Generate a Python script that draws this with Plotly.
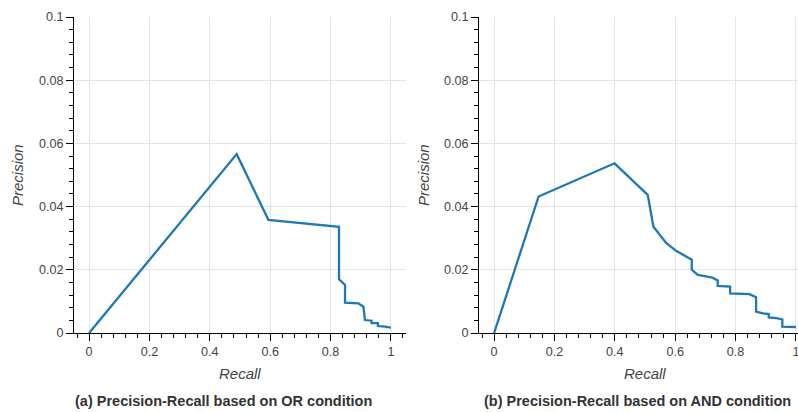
import plotly.graph_objects as go

# ---- data ----
or_recall = [0.0, 0.489, 0.594, 0.828, 0.828, 0.848, 0.848, 0.892, 0.909, 0.914,
             0.936, 0.936, 0.957, 0.957, 0.980, 1.0]
or_precision = [0.0, 0.0566, 0.0358, 0.0336, 0.0170, 0.0152, 0.0096, 0.0094, 0.0083, 0.0041,
                0.0039, 0.0031, 0.0031, 0.0022, 0.0020, 0.0017]

and_recall = [0.0, 0.1475, 0.399, 0.509, 0.528, 0.570, 0.603, 0.655, 0.655, 0.675, 0.723,
              0.741, 0.741, 0.782, 0.782, 0.846, 0.868, 0.868, 0.891, 0.910, 0.910, 0.935,
              0.955, 0.955, 1.0]
and_precision = [0.0, 0.0432, 0.0537, 0.0437, 0.0336, 0.0285, 0.0260, 0.0232, 0.0200, 0.0184,
                 0.0175, 0.0166, 0.0149, 0.0147, 0.0125, 0.0123, 0.0113, 0.0068, 0.0062, 0.0060,
                 0.0049, 0.0047, 0.0043, 0.0020, 0.0019]

x_ticks = [0, 0.2, 0.4, 0.6, 0.8, 1.0]
x_tick_text = ["0", "0.2", "0.4", "0.6", "0.8", "1"]
y_ticks = [0, 0.02, 0.04, 0.06, 0.08, 0.1]
y_tick_text = ["0", "0.02", "0.04", "0.06", "0.08", "0.1"]

captions = ["(a) Precision-Recall based on OR condition",
            "(b) Precision-Recall based on AND condition"]

# ---- layout constants ----
W, H = 798, 412
FONT = "Arial, Liberation Sans, Helvetica, sans-serif"
LINE_COLOR = "#1f77b4"

def px_x(p):
    return p / W

def px_y(p):
    return 1 - p / H

fig = go.Figure()
fig.add_trace(go.Scatter(x=or_recall, y=or_precision, mode="lines",
                         line=dict(color=LINE_COLOR, width=2.3),
                         xaxis="x", yaxis="y", showlegend=False))
fig.add_trace(go.Scatter(x=and_recall, y=and_precision, mode="lines",
                         line=dict(color=LINE_COLOR, width=2.3),
                         xaxis="x2", yaxis="y2", showlegend=False))

def xaxis(domain, rng, anchor):
    return dict(domain=domain, range=rng, anchor=anchor,
                tickvals=x_ticks, ticktext=x_tick_text,
                showline=True, linecolor="black", linewidth=1,
                ticks="outside", ticklen=7, tickcolor="black", tickwidth=1,
                showgrid=True, gridcolor="#e5e5e5", gridwidth=1, zeroline=False,
                tickfont=dict(family=FONT, size=12.6, color="#444"),
                ticklabeloverflow="allow", automargin=False,
                minor=dict(dtick=0.04, tick0=0, ticks="outside", ticklen=4,
                           tickcolor="black", showgrid=False),
                fixedrange=True)

def yaxis(domain, anchor):
    return dict(domain=domain, range=[0, 0.1], anchor=anchor,
                tickvals=y_ticks, ticktext=y_tick_text,
                showline=True, linecolor="black", linewidth=1,
                ticks="outside", ticklen=7, tickcolor="black", tickwidth=1,
                showgrid=True, gridcolor="#e5e5e5", gridwidth=1, zeroline=False,
                tickfont=dict(family=FONT, size=12.6, color="#444"),
                ticklabeloverflow="allow", automargin=False,
                minor=dict(dtick=0.004, tick0=0, ticks="outside", ticklen=4,
                           tickcolor="black", showgrid=False),
                fixedrange=True)

ydom = [px_y(333), px_y(17)]
left_dom = [px_x(74), px_x(406)]
right_dom = [px_x(479), 1.0]
right_max = (W - 479) / ((406 - 74) / 1.1) - 0.05

annotations = []
def ann(text, x, y, size, angle=0, bold=False, italic=False, color="#444"):
    annotations.append(dict(text=text, x=px_x(x), y=px_y(y), xref="paper", yref="paper",
                            xanchor="center", yanchor="middle", showarrow=False,
                            textangle=angle,
                            font=dict(family=FONT, size=size, color=color,
                                      weight="bold" if bold else "normal",
                                      style="italic" if italic else "normal")))

ann("Recall", 240, 373, 15, italic=True)
ann("Recall", 645, 373, 15, italic=True)
ann("Precision", 18, 175, 15, angle=-90, italic=True)
ann("Precision", 424, 175, 15, angle=-90, italic=True)
ann(captions[0], 223, 401, 14.5, bold=True, color="#333")
ann(captions[1], 637, 401, 14.5, bold=True, color="#333")

fig.update_layout(
    width=W, height=H, autosize=False,
    margin=dict(l=0, r=0, t=0, b=0, pad=0, autoexpand=False),
    paper_bgcolor="white", plot_bgcolor="white",
    xaxis=xaxis(left_dom, [-0.05, 1.05], "y"),
    yaxis=yaxis(ydom, "x"),
    xaxis2=xaxis(right_dom, [-0.05, right_max], "y2"),
    yaxis2=yaxis(ydom, "x2"),
    annotations=annotations,
    showlegend=False,
)

fig.write_html("out.html", config={"displayModeBar": False, "responsive": False})
